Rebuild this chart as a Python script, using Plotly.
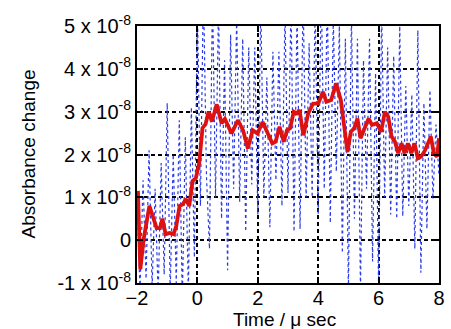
import plotly.graph_objects as go

# Red (smoothed) trace: time in µs, absorbance change in units of 1e-8
red_t = [-1.97, -1.89, -1.78, -1.59, -1.35, -1.24, -1.16, -1.05, -0.92, -0.79, -0.70, -0.59,
         -0.48, -0.38, -0.27, -0.16, -0.05, 0.06, 0.17, 0.27, 0.37, 0.48, 0.64, 0.80, 0.91,
         1.13, 1.34, 1.51, 1.67, 1.83, 1.99, 2.16, 2.48, 2.59, 2.72, 2.86, 2.97, 3.07, 3.19,
         3.29, 3.38, 3.51, 3.67, 3.83, 4.00, 4.16, 4.27, 4.43, 4.59, 4.75, 4.97, 5.08, 5.19,
         5.30, 5.40, 5.56, 5.67, 5.78, 5.94, 6.08, 6.21, 6.32, 6.43, 6.54, 6.65, 6.76, 6.86,
         6.97, 7.08, 7.19, 7.30, 7.41, 7.54, 7.73, 7.83, 7.94, 8.00]
red_y = [1.15, -0.68, 0.02, 0.80, 0.28, 0.28, 0.50, 0.14, 0.17, 0.14, 0.33, 0.80,
         0.84, 0.96, 0.80, 1.38, 1.45, 1.80, 2.62, 2.71, 3.00, 2.77, 3.17, 2.73, 2.83,
         2.49, 2.80, 2.57, 2.14, 2.57, 2.49, 2.76, 2.26, 2.30, 2.65, 2.30, 2.57, 2.61, 3.00,
         2.96, 3.04, 2.45, 2.96, 3.19, 3.19, 3.46, 3.23, 3.27, 3.66, 3.27, 2.06, 2.53, 2.61,
         2.84, 2.38, 2.66, 2.84, 2.69, 2.73, 2.53, 3.00, 2.88, 2.42, 2.30, 2.03, 2.26, 2.03,
         2.26, 2.03, 2.26, 1.91, 1.95, 2.10, 2.42, 2.03, 1.95, 2.38]

# Blue (raw, noisy) trace sampled every 0.1 µs from -2 to 8, units of 1e-8
blue_t = [round(-2 + 0.1 * i, 1) for i in range(101)]
blue_y = [1.0, -1.2, 1.4, -0.9, 2.1, -1.1, 1.2, -1.3, 1.8, -0.8,
          3.2, -1.2, 2.0, -1.0, 2.8, -1.4, 2.4, -1.2, 3.1, -0.4,
          5.5, 0.8, 6.0, 1.5, -0.2, 5.8, 1.0, 5.5, 0.5, 4.2,
          -0.7, 4.8, 1.2, 5.2, 0.9, 4.7, 0.2, 4.5, 1.3, 4.5,
          0.6, 5.5, 1.0, 3.8, 0.3, 4.4, 1.4, 4.4, 0.8, 5.3,
          1.1, 5.6, 0.2, 5.4, 0.26, 5.8, 1.0, 4.6, 1.0, 5.5,
          0.6, 6.0, 1.2, 5.7, 0.4, 5.2, 1.6, 5.0, -0.3, 4.7,
          -1.2, 5.3, 0.5, 4.7, -1.2, 4.2, 1.2, 4.7, -0.5, 3.9,
          -1.1, 5.4, 1.0, 4.5, 0.6, 4.3, 0.5, 5.0, 0.56, 3.6,
          0.8, 3.4, -0.2, 4.9, -0.76, 3.2, 0.26, 3.5, 0.96, 2.7,
          1.5]

y_ticks = [-1, 0, 1, 2, 3, 4, 5]
y_ticktext = ["-1 x 10<sup>-8</sup>", "0", "1 x 10<sup>-8</sup>", "2 x 10<sup>-8</sup>",
              "3 x 10<sup>-8</sup>", "4 x 10<sup>-8</sup>", "5 x 10<sup>-8</sup>"]
x_ticks = [-2, 0, 2, 4, 6, 8]
x_title = "Time / μ sec"
y_title = "Absorbance change"

fig = go.Figure()
fig.add_trace(go.Scatter(x=blue_t, y=blue_y, mode="lines",
                         line=dict(color="#2a3ae8", width=1.2, dash="dot"),
                         showlegend=False, hoverinfo="skip"))
fig.add_trace(go.Scatter(x=red_t, y=red_y, mode="lines",
                         line=dict(color="#dd1111", width=3.8),
                         showlegend=False, hoverinfo="skip"))

font = "Liberation Sans, Arial, sans-serif"
axis_common = dict(showgrid=True, gridcolor="black", griddash="4px,3px", gridwidth=1.6,
                   zeroline=False, showline=True, linecolor="black", linewidth=2,
                   mirror="ticks", ticks="inside", ticklen=6, tickwidth=2,
                   tickcolor="black", tickfont=dict(size=20))
fig.update_layout(
    width=451, height=329,
    margin=dict(l=137, r=6, t=26, b=46),
    paper_bgcolor="white", plot_bgcolor="white",
    font=dict(family=font, size=20, color="black"),
    xaxis=dict(range=[-2.0001, 8.0001], tickvals=x_ticks, ticklabelstandoff=-4,
               **axis_common),
    yaxis=dict(range=[-1.0001, 5.0001], tickvals=y_ticks, ticktext=y_ticktext,
               **axis_common),
    annotations=[
        dict(text=x_title, xref="paper", yref="paper", x=0.489, y=0, yshift=-36,
             xanchor="center", yanchor="middle", showarrow=False,
             font=dict(size=19)),
        dict(text=y_title, xref="paper", yref="paper", x=0, xshift=-109, y=0.5,
             xanchor="center", yanchor="middle", textangle=-90, showarrow=False,
             font=dict(size=19)),
    ],
)

fig.write_html("out.html", config={"displayModeBar": False},
               post_script="document.body.style.margin='0';document.body.style.overflow='hidden';")
